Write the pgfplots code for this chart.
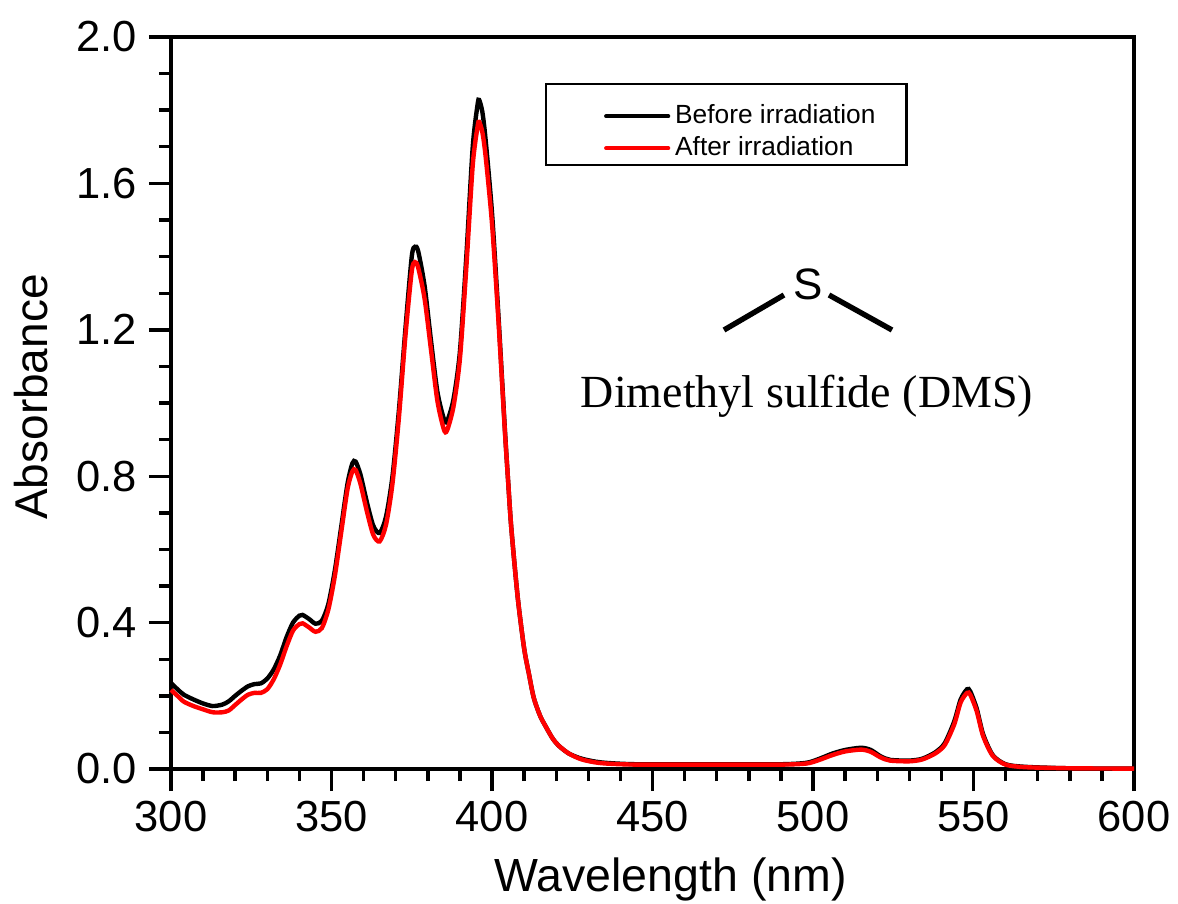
\documentclass[border=0pt]{standalone}
\usepackage{pgfplots}
\pgfplotsset{compat=1.18}
\usepackage{fontspec}
\setmainfont{Liberation Sans}
\newfontfamily\serifx{Liberation Serif}
\newcommand{\fs}[1]{\fontsize{#1}{#1}\selectfont}
\begin{document}
\begin{tikzpicture}[x=1pt,y=1pt]
\path[use as bounding box] (-171,-134) rectangle (1007,769);
\begin{axis}[
  at={(0,0)},anchor=south west,
  scale only axis,width=963pt,height=732pt,
  xmin=300,xmax=600,ymin=0,ymax=2,
  axis line style={line width=3.4pt},
  xtick={300,350,...,600},
  minor x tick num=4,
  ytick={0,0.4,...,2.0},
  minor y tick num=3,
  tick align=outside,
  xtick pos=bottom,ytick pos=left,
  major tick length=22pt,minor tick length=12pt,
  tick style={black,line width=3.4pt},
  major tick style={black,line width=3.4pt},
  minor tick style={black,line width=3.4pt},
  /pgf/number format/assume math mode=true,
  xticklabel style={/pgf/number format/fixed,/pgf/number format/1000 sep={},font=\fs{43.5},inner sep=0pt,yshift=-10pt},
  yticklabel style={/pgf/number format/fixed,/pgf/number format/fixed zerofill,/pgf/number format/precision=1,font=\fs{43.5},inner sep=0pt,xshift=-12pt},
  xlabel={Wavelength (nm)},
  ylabel={Absorbance},
  xlabel style={font=\fs{46.5},at={(axis description cs:0.5,0)},anchor=center,yshift=-110pt,xshift=18pt,inner sep=0pt},
  ylabel style={font=\fs{46},at={(axis description cs:0,0.5)},anchor=center,yshift=140pt,xshift=6pt,inner sep=0pt},
  legend style={at={(374pt,686pt)},anchor=north west,draw=black,line width=2.4pt,font=\fs{26.3},inner xsep=0pt,inner ysep=8.5pt,
    legend cell align=left,row sep=0pt,
    nodes={inner xsep=1pt,inner ysep=0pt}},
  legend image code/.code={
    \path[draw=none] (-60pt,7.5pt) rectangle (68pt,-7.5pt);
    \draw[#1,line width=4.2pt,line cap=round] (0pt,-7.5pt) -- (62pt,-7.5pt);
  },
  clip=false,
]
\addplot[black,line width=4.4pt,smooth,tension=0.45] coordinates {
(300,.235)(302,.218)(304,.203)(307,.190)(310,.179)(313,.172)(316,.176)(318,.185)(320,.200)(322,.214)(324,.226)(326,.232)(328,.234)(330,.247)(332,.272)(334,.310)(336,.360)(338,.400)(340,.419)(341,.421)(343,.410)(345,.397)(347,.405)(349,.450)(351,.540)(353,.660)(355,.780)(356.5,.835)(357.5,.840)(359,.805)(361,.730)(363,.665)(365,.645)(367,.690)(369,.800)(371,.980)(373,1.200)(375,1.400)(376,1.427)(377,1.415)(379,1.320)(381,1.170)(383,1.030)(385,.957)(386,.950)(388,1.010)(390,1.140)(392,1.400)(394,1.700)(395.5,1.815)(396,1.828)(397,1.795)(398,1.720)(400,1.520)(402,1.240)(404,.930)(405,.790)(406,.660)(408,.470)(410,.330)(411.5,.260)(413,.195)(415,.145)(417,.112)(419,.082)(421,.062)(424,.042)(428,.028)(434,.018)(445,.013)(470,.013)(490,.013)(498,.017)(502,.028)(506,.042)(510,.052)(515,.058)(518,.052)(521,.035)(524,.025)(530,.023)(534,.028)(538,.045)(541,.070)(544,.130)(546,.190)(548,.218)(549,.212)(551,.165)(553,.095)(556,.038)(560,.013)(566,.006)(580,.002)(600,.001)};
\addlegendentry{\rule{0pt}{30.5pt}Before irradiation\rule{30pt}{0pt}}
\addplot[red,line width=4.4pt,smooth,tension=0.45] coordinates {
(300,.216)(302,.200)(304,.184)(307,.172)(310,.163)(313,.155)(316,.155)(318,.160)(320,.175)(322,.190)(324,.203)(326,.208)(328,.208)(330,.218)(332,.245)(334,.285)(336,.335)(338,.378)(340,.396)(341,.398)(343,.387)(345,.375)(347,.385)(349,.435)(351,.525)(353,.645)(355,.765)(356.5,.813)(357.5,.817)(359,.780)(361,.705)(363,.640)(365,.622)(367,.668)(369,.780)(371,.960)(373,1.180)(375,1.360)(376,1.385)(377,1.370)(379,1.285)(381,1.145)(383,1.005)(385,.928)(386,.925)(388,.990)(390,1.120)(392,1.370)(394,1.650)(395.5,1.755)(396,1.768)(397,1.740)(398,1.675)(400,1.490)(402,1.225)(404,.925)(405,.790)(406,.660)(408,.470)(410,.330)(411.5,.260)(413,.195)(415,.145)(417,.112)(419,.082)(421,.062)(424,.042)(428,.026)(434,.016)(445,.012)(470,.012)(490,.012)(498,.015)(502,.025)(506,.038)(510,.048)(515,.053)(518,.047)(521,.032)(524,.023)(530,.021)(534,.026)(538,.042)(541,.065)(544,.122)(546,.182)(548,.208)(549,.203)(551,.158)(553,.090)(556,.036)(560,.012)(566,.005)(580,.002)(600,.001)};
\addlegendentry{\rule{0pt}{30.5pt}After irradiation}
\end{axis}
\node[font=\fs{44},inner sep=0pt] at (637,485) {S};
\draw[line width=5.4pt] (553,439) -- (613,474);
\draw[line width=5.4pt] (658,474) -- (721,439);
\node[font=\serifx\fs{46},inner sep=0pt] at (636,373) {Dimethyl sulfide (DMS)};
\end{tikzpicture}
\end{document}
